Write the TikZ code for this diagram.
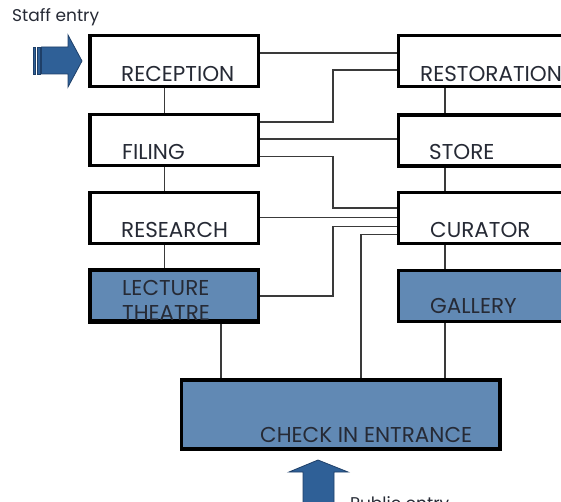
\documentclass[tikz,border=0pt]{standalone}
\usepackage{fontspec}
\setmainfont{Poppins}
\definecolor{boxblue}{HTML}{6189B4}
\definecolor{arrowblue}{HTML}{2F6097}
\definecolor{arrowedge}{HTML}{1E3F68}
\definecolor{txt}{HTML}{262A35}
\definecolor{conncol}{HTML}{3A3A3A}
\tikzset{
  box/.style={draw=black, line width=3.4pt, inner sep=0pt, fill=white},
  lbox/.style={box, minimum width=168.5pt, minimum height=51pt},
  rbox/.style={box, minimum width=221.5pt, minimum height=51pt},
  bluebox/.style={fill=boxblue},
  lbl/.style={anchor=base west, inner sep=0pt, text=txt, font=\fontsize{21.5}{23}\selectfont},
  entry/.style={anchor=base west, inner sep=0pt, text=txt, font=\fontsize{17}{19}\selectfont},
  conn/.style={draw=conncol, line width=1.6pt},
  blockarrow/.style={fill=arrowblue, draw=arrowedge, line width=0.8pt, line join=miter}
}
\begin{document}
\begin{tikzpicture}[x=1pt,y=-1pt]
\useasboundingbox (0,0) rectangle (561,502);
\coordinate (e1) at (333,0);
\coordinate (e2) at (361,0);
% boxes
\node[lbox] (rec) at (174.25,61) {};
\node[lbox] (fil) at (174.25,140) {};
\node[lbox] (res) at (174.25,218.25) {};
\node[lbox,bluebox] (lec) at (174.25,295.5) {};
\node[rbox] (rest) at (509.25,61.25) {};
\node[rbox] (store) at (509.25,140.5) {};
\node[rbox] (cur) at (509.25,218.25) {};
\node[rbox,bluebox] (gal) at (509.25,295.75) {};
\node[box,bluebox,minimum width=318.5pt,minimum height=69pt] (chk) at (340.75,414.5) {};
% vertical links
\draw[conn] (rec.south -| 164.5,0) -- (fil.north -| 164.5,0);
\draw[conn] (fil.south -| 164.5,0) -- (res.north -| 164.5,0);
\draw[conn] (res.south -| 164.5,0) -- (lec.north -| 164.5,0);
\draw[conn] (lec.south -| 221,0) -- (chk.north -| 221,0);
\draw[conn] (rest.south -| 445,0) -- (store.north -| 445,0);
\draw[conn] (store.south -| 445,0) -- (cur.north -| 445,0);
\draw[conn] (cur.south -| 445,0) -- (gal.north -| 445,0);
\draw[conn] (gal.south -| 445,0) -- (chk.north -| 445,0);
% horizontal / elbow links
\draw[conn] (rec.east |- 0,53) -- (rest.west |- 0,53);
\draw[conn] (rest.west |- 0,70) -- (e1 |- 0,70) -- (e1 |- 0,122) -- (fil.east |- 0,122);
\draw[conn] (fil.east |- 0,139) -- (store.west |- 0,139);
\draw[conn] (fil.east |- 0,156.5) -- (e1 |- 0,156.5) -- (e1 |- 0,208) -- (cur.west |- 0,208);
\draw[conn] (res.east |- 0,217.5) -- (cur.west |- 0,217.5);
\draw[conn] (cur.west |- 0,226.5) -- (e1 |- 0,226.5) -- (e1 |- 0,296) -- (lec.east |- 0,296);
\draw[conn] (cur.west |- 0,234.5) -- (e2 |- 0,234.5) -- (e2 |- chk.north);
% labels
\node[lbl] (recT) at (121,82) {RECEPTION};
\node[lbl] (filT) at (122,160) {FILING};
\node[lbl] (resT) at (121,237) {RESEARCH};
\node[lbl] (lecT1) at (122,295) {LECTURE};
\node[lbl] (lecT2) at (122,320) {THEATRE};
\draw[draw=black, line width=3.4pt] (lec.south west) -- (lec.south east);
\node[lbl] (restT) at (420,82) {RESTORATION};
\node[lbl] (storeT) at (429,160) {STORE};
\node[lbl] (curT) at (430,237) {CURATOR};
\node[lbl] (galT) at (430,313) {GALLERY};
\node[lbl] (chkT) at (260,442) {CHECK IN ENTRANCE};
% staff entry
\node[entry] (staffT) at (12,22) {Staff entry};
\draw[blockarrow] (33,47) rectangle (35.5,74);
\draw[blockarrow] (37.5,47) rectangle (40,74);
\draw[blockarrow] (41.5,47) -- (68,47) -- (68,35) -- (82,61) -- (68,87) -- (68,74) -- (41.5,74) -- cycle;
% public entry
\draw[blockarrow] (303,520) -- (303,472) -- (289,472) -- (318,460) -- (348,472) -- (334,472) -- (334,520) -- cycle;
\node[entry] (pubT) at (350,509) {Public entry};
\end{tikzpicture}
\end{document}
